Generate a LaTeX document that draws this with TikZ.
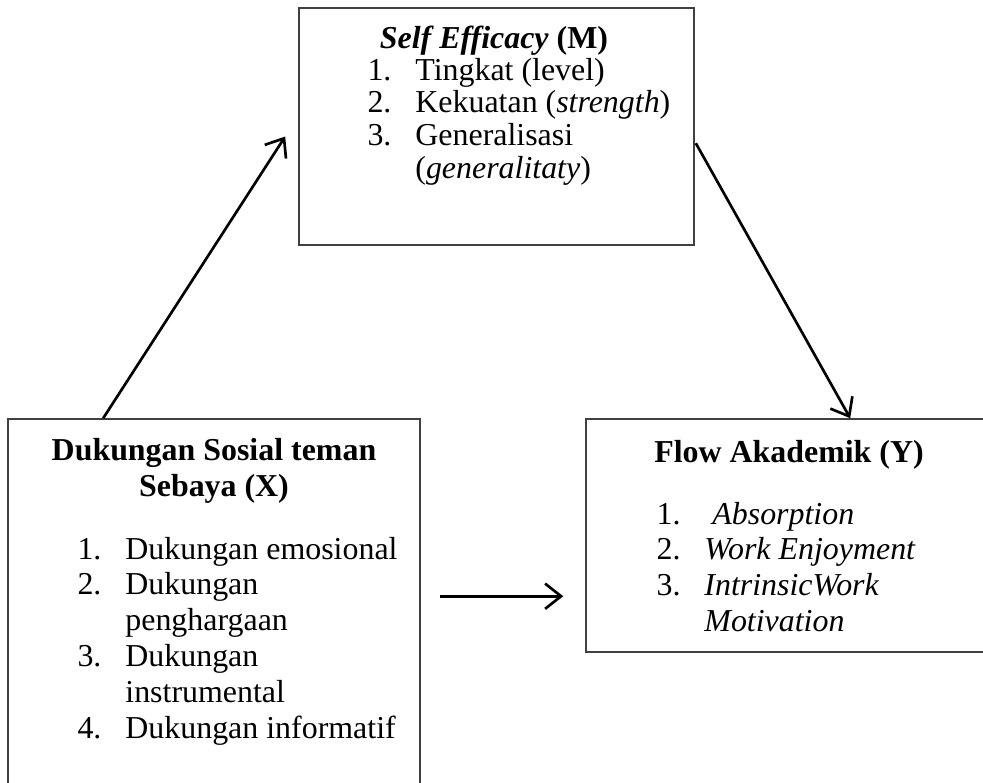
\documentclass[tikz,border=0pt]{standalone}
\usepackage{fontspec}
\setmainfont{Liberation Serif}
\usetikzlibrary{arrows.meta, calc, fit}

\begin{document}
\begin{tikzpicture}[x=0.376pt,y=-0.376pt]
    \tikzset{BoxStyle/.style = {draw=black!75,line width=0.6pt,inner sep=0},
        TextStyle/.style = {inner sep=0,font=\fontsize{12}{13.5}\selectfont},
        ArrowStyle/.style = {draw,line width=1pt,-{Straight Barb[length=6pt,width=9.5pt]}}}
    \useasboundingbox (0,0) rectangle (983,782);

    % the three boxes (X and Y run off the page)
    \node[BoxStyle,fit={(299,8) (694,245)}] (M) {};
    \node[BoxStyle,fit={(8,419) (420,800)}] (X) {};
    \node[BoxStyle,fit={(586,419) (1000,652)}] (Y) {};

    \node[TextStyle,anchor=base] at (494,48) (Mtitle)
        {\textbf{\textit{Self Efficacy}} \textbf{(M)}};
    \node[TextStyle,font=\fontsize{12}{12.4}\selectfont,anchor=base west] at (367,80) (Mlist)
        {\begin{tabular}[t]{@{}p{18pt}@{}l@{}}
        1. & Tingkat (level)\\
        2. & Kekuatan (\textit{strength})\\
        3. & Generalisasi\\
           & (\textit{generalitaty})
        \end{tabular}};

    \node[TextStyle,font=\fontsize{12}{13.8}\selectfont,anchor=base] at (214,460) (Xtitle)
        {\bfseries\begin{tabular}[t]{@{}c@{}}
        Dukungan Sosial teman\\
        Sebaya (X)
        \end{tabular}};
    \node[TextStyle,anchor=base west] at (77,559) (Xlist)
        {\begin{tabular}[t]{@{}p{18pt}@{}l@{}}
        1. & Dukungan emosional\\
        2. & Dukungan\\
           & penghargaan\\
        3. & Dukungan\\
           & instrumental\\
        4. & Dukungan informatif
        \end{tabular}};

    \node[TextStyle,anchor=base] at (789,462) (Ytitle)
        {\textbf{Flow Akademik (Y)}};
    \node[TextStyle,anchor=base west] at (656,524) (Ylist)
        {\begin{tabular}[t]{@{}p{18pt}@{}l@{}}
        1. & \hspace{3pt}\textit{Absorption}\\
        2. & \textit{Work Enjoyment}\\
        3. & \textit{IntrinsicWork}\\
           & \textit{Motivation}
        \end{tabular}};

    % arrow ends
    \coordinate (xOut) at ($(X.north west)+(96,0)$);
    \coordinate (mIn) at ($(M.west)+(-13,10)$);
    \coordinate (mOut) at ($(M.north east)+(1,136)$);
    \coordinate (yIn) at ($(Y.north west)+(265,0)$);
    \coordinate (xRight) at ($(X.north east)+(19,178)$);
    \coordinate (yLeft) at ($(Y.north west)+(-22,178)$);

    \path
        (xOut) edge[ArrowStyle] (mIn)
        (mOut) edge[ArrowStyle] (yIn)
        (xRight) edge[ArrowStyle] (yLeft)
        ;
\end{tikzpicture}
\end{document}
